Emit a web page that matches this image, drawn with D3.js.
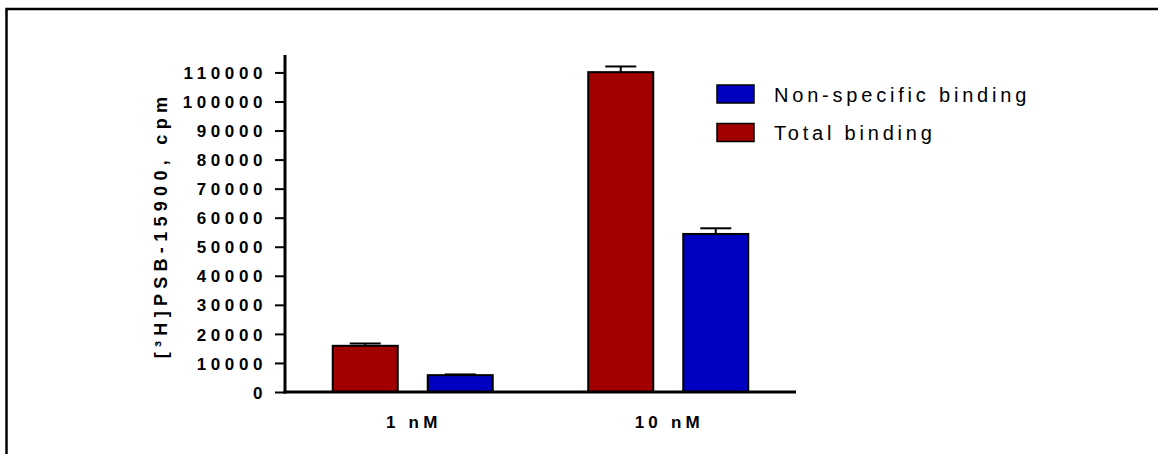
<!DOCTYPE html>
<html>
<head>
<meta charset="utf-8">
<script src="https://cdn.jsdelivr.net/npm/d3@7"></script>
<style>
  html, body { margin: 0; padding: 0; background: #fff; }
  svg { display: block; }
</style>
</head>
<body>
<svg id="chart" width="1158" height="454"></svg>
<script>
// Concentrations on the x axis
const categories = ["1 nM", "10 nM"];
// Series names (legend order) and colours
const seriesNames = ["Non-specific binding", "Total binding"];
const seriesColors = ["#0000C0", "#A00000"];
// Mean counts and SEM per concentration
const totalBinding = [15900, 110100];
const totalBindingErr = [800, 1950];
const nonSpecificBinding = [5800, 54400];
const nonSpecificBindingErr = [250, 1950];
// Y tick values
const yTicks = [0, 10000, 20000, 30000, 40000, 50000, 60000, 70000, 80000, 90000, 100000, 110000];

const svg = d3.select("#chart");
const W = 1158, H = 454;
const FONT = "Liberation Sans, Arial, sans-serif";

// outer frame (top and left edges)
svg.append("path")
  .attr("d", `M6.5,${H} L6.5,9 L${W},9`)
  .attr("fill", "none").attr("stroke", "#000").attr("stroke-width", 2.5);

const x0 = 285, x1 = 796, yBase = 392, yTop = 55;

const x = d3.scaleBand().domain(categories).range([x0, x1]).paddingInner(0).paddingOuter(0);
const y = d3.scaleLinear().domain([0, 116000]).range([yBase, yTop]);

// bars: total (left) and non-specific (right) within each group
const bars = [];
categories.forEach((c, i) => {
  bars.push({ cat: c, key: "Total binding", v: totalBinding[i], e: totalBindingErr[i], off: -1 });
  bars.push({ cat: c, key: "Non-specific binding", v: nonSpecificBinding[i], e: nonSpecificBindingErr[i], off: 1 });
});
const color = d3.scaleOrdinal().domain(seriesNames).range(seriesColors);
const barW = 65, gap = 30;
const bx = d => x(d.cat) + x.bandwidth() / 2 + (d.off < 0 ? -gap / 2 - barW : gap / 2);

// error bars (upper only)
const eg = svg.append("g").attr("stroke", "#000").attr("stroke-width", 2).attr("fill", "none");
bars.forEach(d => {
  const cx = bx(d) + barW / 2;
  eg.append("line").attr("x1", cx).attr("x2", cx).attr("y1", y(d.v)).attr("y2", y(d.v + d.e));
  eg.append("line").attr("x1", cx - 15.5).attr("x2", cx + 15.5).attr("y1", y(d.v + d.e)).attr("y2", y(d.v + d.e));
});

svg.append("g").selectAll("rect").data(bars).join("rect")
  .attr("x", bx)
  .attr("y", d => y(d.v))
  .attr("width", barW)
  .attr("height", d => y(0) - y(d.v))
  .attr("fill", d => color(d.key))
  .attr("stroke", "#000").attr("stroke-width", 2);

// y axis
const yAxis = d3.axisLeft(y).tickValues(yTicks).tickSize(10).tickPadding(8).tickFormat(d3.format("d"));
const gy = svg.append("g").attr("transform", `translate(${x0},0)`).call(yAxis);
gy.select(".domain").attr("d", `M0,${yTop}V${yBase + 1.5}`).attr("stroke-width", 3);
gy.selectAll(".tick line").attr("stroke-width", 2);
gy.selectAll(".tick text")
  .attr("font-family", FONT)
  .attr("font-weight", "bold").attr("font-size", 17)
  .attr("letter-spacing", "4.6px").attr("fill", "#000")
  .attr("dy", "0.36em");

// x axis
const xAxis = d3.axisBottom(x).tickSize(0).tickPadding(0);
const gx = svg.append("g").attr("transform", `translate(0,${yBase})`).call(xAxis);
gx.select(".domain").attr("d", `M${x0 - 1.5},0H${x1}`).attr("stroke-width", 3);
gx.selectAll(".tick text")
  .attr("font-family", FONT)
  .attr("font-weight", "bold").attr("font-size", 17)
  .attr("letter-spacing", "4.2px").attr("fill", "#000")
  .attr("y", 36).attr("dy", 0).attr("dx", 1);

// y axis title
const title = svg.append("text")
  .attr("transform", `translate(167,225) rotate(-90)`)
  .attr("text-anchor", "middle")
  .attr("font-family", FONT)
  .attr("font-weight", "bold").attr("font-size", 18)
  .attr("letter-spacing", "5.3px").attr("fill", "#000");
title.append("tspan").text("[³H]PSB-15900, cpm");

// legend
const lg = svg.append("g").attr("transform", "translate(717,85)");
seriesNames.forEach((n, i) => {
  const g = lg.append("g").attr("transform", `translate(0,${i * 38.5})`);
  g.append("rect").attr("width", 37).attr("height", 18)
    .attr("fill", seriesColors[i]).attr("stroke", "#000").attr("stroke-width", 1.5);
  g.append("text").attr("x", 57).attr("y", 16.5)
    .attr("font-family", FONT)
    .attr("font-size", 20).attr("letter-spacing", "3.8px").attr("fill", "#000")
    .text(n);
});
</script>
</body>
</html>
